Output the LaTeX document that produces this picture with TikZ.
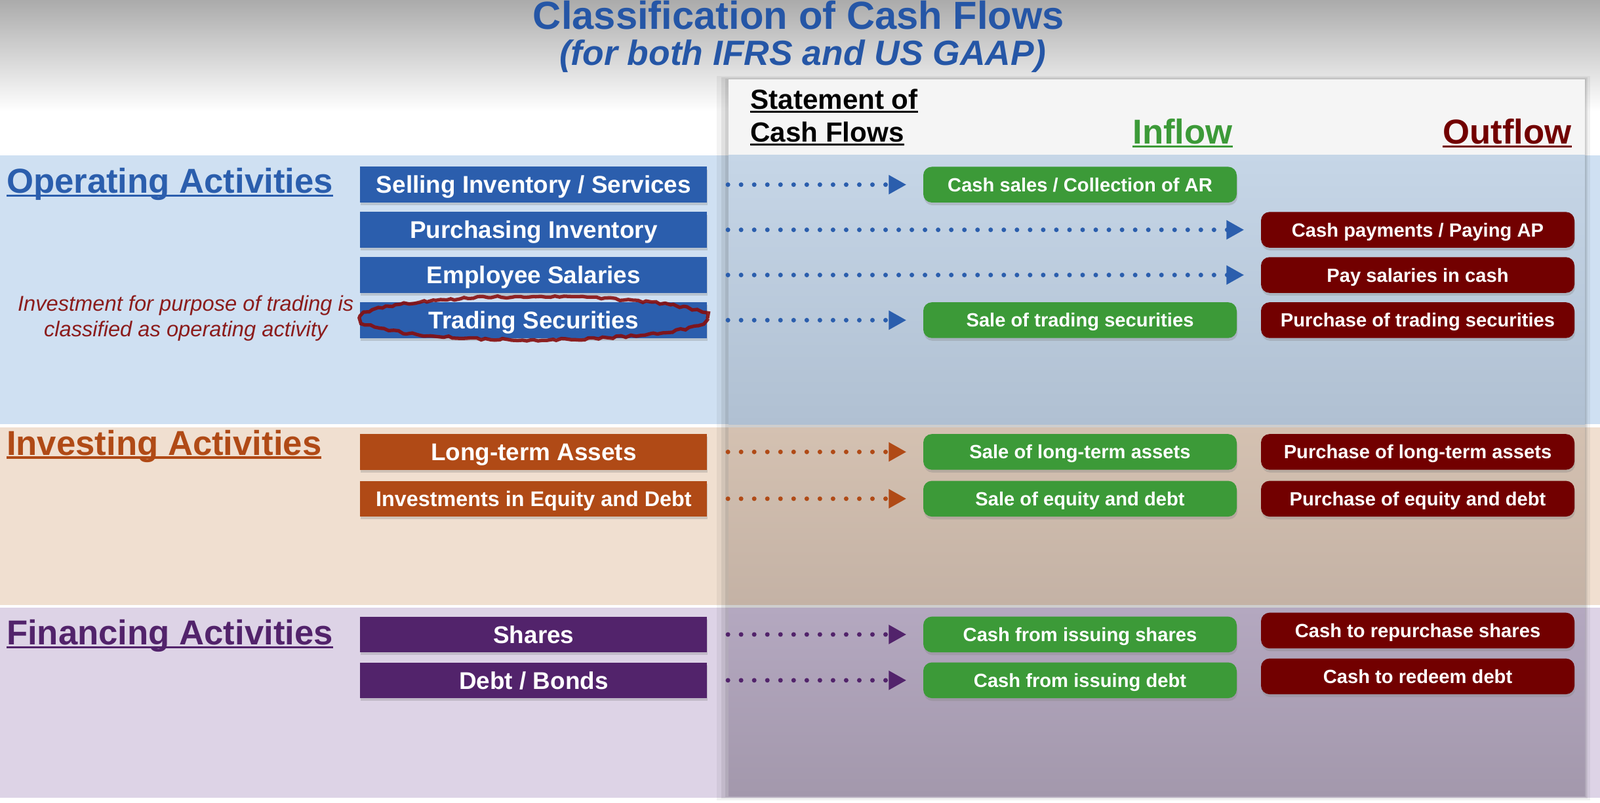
\documentclass[tikz,border=0pt]{standalone}
\usepackage{fontspec}
\setmainfont{Liberation Sans}
\usetikzlibrary{arrows.meta, positioning, shadows, decorations.pathmorphing}

\definecolor{titleblue}{RGB}{37,86,166}
\definecolor{opblue}{RGB}{43,94,173}
\definecolor{invorange}{RGB}{176,74,22}
\definecolor{finpurple}{RGB}{82,35,107}
\definecolor{inflowgreen}{RGB}{60,154,56}
\definecolor{outflowred}{RGB}{114,0,0}
\definecolor{notered}{RGB}{139,28,28}
\definecolor{markred}{RGB}{135,14,14}
\definecolor{opband}{RGB}{207,224,242}
\definecolor{invband}{RGB}{240,223,208}
\definecolor{finband}{RGB}{221,211,230}
\definecolor{opshadetop}{RGB}{198,214,231}
\definecolor{opshadebot}{RGB}{176,192,210}
\definecolor{invshadetop}{RGB}{212,193,177}
\definecolor{invshadebot}{RGB}{196,178,165}
\definecolor{finshadetop}{RGB}{180,168,192}
\definecolor{finshadebot}{RGB}{163,152,172}

% underlined heading text
\newcommand{\undl}[1]{\setbox0=\hbox{#1}\rlap{\rule[-1.6pt]{\wd0}{0.9pt}}\box0}

\tikzset{
  actbox/.style={rectangle, fill=#1, text=white, minimum width=5.29cm, minimum height=0.545cm, inner sep=0pt,
    text height=7.5pt, text depth=0pt,
    font=\bfseries\fontsize{10.5}{12}\selectfont, drop shadow={shadow xshift=0.3pt, shadow yshift=-1.2pt, opacity=0.3}},
  inbox/.style={rectangle, rounded corners=0.13cm, fill=inflowgreen, text=white, minimum width=4.78cm, minimum height=0.545cm,
    inner sep=0pt, text height=6pt, text depth=0pt,
    font=\bfseries\fontsize{8.3}{10}\selectfont, drop shadow={shadow xshift=0.3pt, shadow yshift=-1.2pt, opacity=0.3}},
  outbox/.style={inbox, fill=outflowred},
  flow/.style={draw=#1, line width=2pt, line cap=round, dash pattern=on 0pt off 5.7pt,
    -{Triangle[length=7.7pt, width=7.9pt]}, shorten <=0.31cm, shorten >=0.25cm},
  acthead/.style={anchor=base west, inner sep=0pt, font=\bfseries\fontsize{15}{18}\selectfont},
}

\begin{document}
\begin{tikzpicture}
    \useasboundingbox (0,0) rectangle (24.4,-12.24);
    \fill[white] (0,0) rectangle (24.4,-12.24);
    \shade[top color=black!33, bottom color=white] (0,0) rectangle (24.4,-1.7);

    % activity bands
    \fill[opband] (0,-2.365) rectangle (24.4,-6.473);
    \fill[invband] (0,-6.52) rectangle (24.4,-9.228);
    \fill[finband] (0,-9.274) rectangle (24.4,-12.169);

    % statement panel
    \fill[black, opacity=0.05] (10.93,-1.16) rectangle (24.25,-12.21);
    \fill[black, opacity=0.07] (11.0,-1.18) rectangle (24.21,-12.18);
    \fill[black, opacity=0.08] (11.06,-1.2) rectangle (24.19,-12.16);
    \fill[black!4] (11.11,-1.214) rectangle (24.17,-2.365);
    \shade[top color=opshadetop, bottom color=opshadebot] (11.11,-2.365) rectangle (24.17,-6.473);
    \shade[top color=invshadetop, bottom color=invshadebot] (11.11,-6.52) rectangle (24.17,-9.228);
    \shade[top color=finshadetop, bottom color=finshadebot] (11.11,-9.274) rectangle (24.17,-12.14);

    \node (title) [anchor=base, text=titleblue, font=\bfseries\fontsize{17}{20}\selectfont] at (12.18,-0.443) {Classification of Cash Flows};
    \node (subtitle) [anchor=base, text=titleblue, font=\bfseries\itshape\fontsize{15.2}{18}\selectfont] at (12.24,-0.996) {(for both IFRS and US GAAP)};

    \node (stmt) [anchor=north west, inner sep=0pt, align=left, font=\bfseries\fontsize{12}{14.2}\selectfont] at (11.437,-1.35) {\undl{Statement of}\\\undl{Cash Flows}};
    \node (inhead) [anchor=base, inner sep=0pt, text=inflowgreen, font=\bfseries\fontsize{15}{18}\selectfont] at (18.035,-2.194) {\undl{Inflow}};
    \node (outhead) [anchor=base, inner sep=0pt, text=outflowred, font=\bfseries\fontsize{15}{18}\selectfont] at (22.984,-2.194) {\undl{Outflow}};

    \node (ophead) [acthead, text=opblue] at (0.093,-2.941) {\undl{Operating Activities}};
    \node (invhead) [acthead, text=invorange] at (0.093,-6.94) {\undl{Investing Activities}};
    \node (finhead) [acthead, text=finpurple] at (0.093,-9.835) {\undl{Financing Activities}};

    \node (tradenote) [anchor=north, inner sep=0pt, align=center, text=notered, font=\itshape\fontsize{9.3}{11.3}\selectfont] at (2.832,-4.497) {Investment for purpose of trading is\\classified as operating activity};

    \coordinate (incol) at (16.47,0);
    \coordinate (outcol) at (21.62,0);

    % operating
    \node (sell) [actbox=opblue] at (8.139,-2.817) {Selling Inventory / Services};
    \node (purchinv) [actbox=opblue, below=0.13cm of sell] {Purchasing Inventory};
    \node (salaries) [actbox=opblue, below=0.13cm of purchinv] {Employee Salaries};
    \node (trading) [actbox=opblue, below=0.13cm of salaries] {Trading Securities};

    \node (cashsales) [inbox] at (sell -| incol) {Cash sales / Collection of AR};
    \node (saletrad) [inbox] at (trading -| incol) {Sale of trading securities};
    \node (payap) [outbox] at (purchinv -| outcol) {Cash payments / Paying AP};
    \node (paysal) [outbox] at (salaries -| outcol) {Pay salaries in cash};
    \node (purtrad) [outbox] at (trading -| outcol) {Purchase of trading securities};

    % investing
    \node (ltassets) [actbox=invorange] at (8.139,-6.894) {Long-term Assets};
    \node (inveq) [actbox=invorange, below=0.155cm of ltassets, text height=6.6pt, font=\bfseries\fontsize{9.2}{11}\selectfont] {Investments in Equity and Debt};

    \node (salelta) [inbox] at (ltassets -| incol) {Sale of long-term assets};
    \node (saleeq) [inbox] at (inveq -| incol) {Sale of equity and debt};
    \node (purlta) [outbox] at (ltassets -| outcol) {Purchase of long-term assets};
    \node (pureq) [outbox] at (inveq -| outcol) {Purchase of equity and debt};

    % financing
    \node (shares) [actbox=finpurple] at (8.139,-9.679) {Shares};
    \node (debtbonds) [actbox=finpurple, below=0.14cm of shares] {Debt / Bonds};

    \node (issshares) [inbox] at (shares -| incol) {Cash from issuing shares};
    \node (issdebt) [inbox] at (debtbonds -| incol) {Cash from issuing debt};
    \node (repurch) [outbox, yshift=0.06cm] at (shares -| outcol) {Cash to repurchase shares};
    \node (redeem) [outbox, yshift=0.06cm] at (debtbonds -| outcol) {Cash to redeem debt};

    \draw[markred, line width=1.5pt, opacity=0.9, decorate, decoration={random steps, segment length=2pt, amplitude=0.5pt}]
        ([yshift=0.03cm]trading.center) ellipse [x radius=2.65cm, y radius=0.33cm];

    \draw[flow=opblue] (sell) -- (cashsales);
    \draw[flow=opblue] (purchinv) -- (payap);
    \draw[flow=opblue] (salaries) -- (paysal);
    \draw[flow=opblue] (trading) -- (saletrad);
    \draw[flow=invorange] (ltassets) -- (salelta);
    \draw[flow=invorange] (inveq) -- (saleeq);
    \draw[flow=finpurple] (shares) -- (issshares);
    \draw[flow=finpurple] (debtbonds) -- (issdebt);
\end{tikzpicture}
\end{document}
